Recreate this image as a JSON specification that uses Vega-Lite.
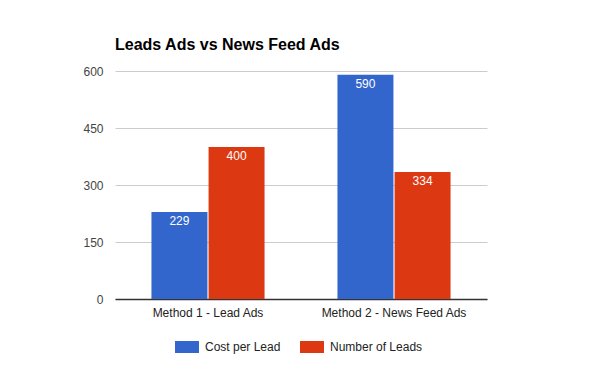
{
  "$schema": "https://vega.github.io/schema/vega-lite/v6.json",
  "width": 372,
  "height": 228,
  "autosize": {"type": "none"},
  "padding": {"left": 115, "top": 71, "right": 113, "bottom": 72},
  "background": "white",
  "config": {
    "font": "Liberation Sans",
    "view": {"stroke": null}
  },
  "title": {
    "text": "Leads Ads vs News Feed Ads",
    "anchor": "start",
    "frame": "group",
    "fontSize": 16,
    "fontWeight": "bold",
    "color": "#000000",
    "font": "Liberation Sans",
    "offset": 12
  },
  "data": {
    "values": [
      {"method": "Method 1 - Lead Ads", "series": "Cost per Lead", "value": 229},
      {"method": "Method 1 - Lead Ads", "series": "Number of Leads", "value": 400},
      {"method": "Method 2 - News Feed Ads", "series": "Cost per Lead", "value": 590},
      {"method": "Method 2 - News Feed Ads", "series": "Number of Leads", "value": 334}
    ]
  },
  "encoding": {
    "x": {
      "field": "method",
      "type": "nominal",
      "sort": null,
      "scale": {"paddingInner": 0.392, "paddingOuter": 0.196},
      "axis": {
        "title": null,
        "labelAngle": 0,
        "labelFontSize": 12,
        "labelColor": "#222222",
        "labelPadding": 8,
        "ticks": false,
        "domainColor": "#333333",
        "domainWidth": 1.5
      }
    },
    "xOffset": {
      "field": "series",
      "type": "nominal",
      "scale": {"paddingInner": 0.02, "paddingOuter": 0}
    },
    "y": {
      "field": "value",
      "type": "quantitative",
      "scale": {"domain": [0, 600], "nice": false},
      "axis": {
        "title": null,
        "values": [0, 150, 300, 450, 600],
        "labelFontSize": 12,
        "labelColor": "#444444",
        "labelPadding": 12,
        "ticks": false,
        "domain": false,
        "gridColor": "#cccccc",
        "gridWidth": 1
      }
    }
  },
  "layer": [
    {
      "mark": {"type": "bar"},
      "encoding": {
        "color": {
          "field": "series",
          "type": "nominal",
          "scale": {"domain": ["Cost per Lead", "Number of Leads"], "range": ["#3366cc", "#dc3912"]},
          "legend": {
            "title": null,
            "orient": "none",
            "legendX": 60,
            "legendY": 264,
            "direction": "horizontal",
            "symbolType": "M-1,-0.5H1V0.5H-1Z",
            "symbolSize": 576,
            "symbolStrokeWidth": 0,
            "labelFontSize": 12,
            "labelColor": "#222222",
            "labelOffset": 6,
            "columnPadding": 19
          }
        }
      }
    },
    {
      "mark": {"type": "text", "baseline": "top", "dy": 4, "color": "white", "fontSize": 12},
      "encoding": {
        "text": {"field": "value", "type": "quantitative"}
      }
    }
  ]
}
